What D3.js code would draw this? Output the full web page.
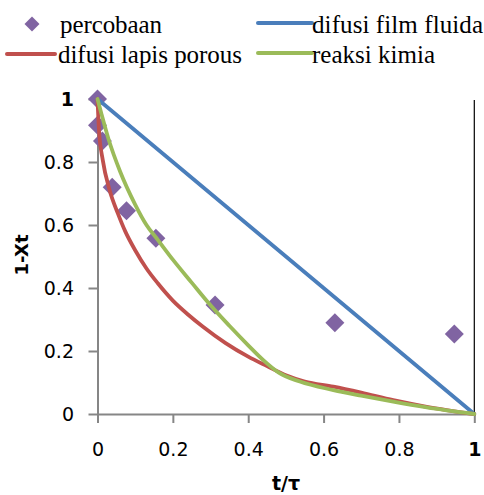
<!DOCTYPE html>
<html>
<head>
<meta charset="utf-8">
<script src="https://cdn.jsdelivr.net/npm/d3@7"></script>
<style>
  html, body { margin: 0; padding: 0; background: #fff; }
  svg { display: block; }
  .leg-text { font-family: "Liberation Serif", "DejaVu Serif", "Times New Roman", serif; font-size: 25px; }
</style>
</head>
<body>
<svg id="chart" width="484" height="495"></svg>
<script>
// ---- data ----
const xTicks = [0, 0.2, 0.4, 0.6, 0.8, 1];
const yTicks = [0, 0.2, 0.4, 0.6, 0.8, 1];
const xTickLabels = ["0", "0.2", "0.4", "0.6", "0.8", "1"];
const yTickLabels = ["0", "0.2", "0.4", "0.6", "0.8", "1"];

const seriesNames = ["percobaan", "difusi film fluida", "difusi lapis porous", "reaksi kimia"];
const seriesColors = ["#8064A2", "#4A7EBB", "#C0504D", "#9BBB59"];

// percobaan (experiment points)
const expT = [0, 0, 0.013, 0.039, 0.077, 0.155, 0.312, 0.63, 0.947];
const expY = [1, 0.917, 0.867, 0.72, 0.645, 0.558, 0.346, 0.29, 0.254];

// difusi film fluida
const filmT = [0, 0.2, 0.4, 0.6, 0.8, 1];
const filmY = [1, 0.80, 0.60, 0.40, 0.20, 0];

// difusi lapis porous
const porT = [0, 0.004, 0.014, 0.032, 0.054, 0.074, 0.10, 0.13, 0.16, 0.20, 0.24, 0.28, 0.34, 0.40, 0.45, 0.50, 0.55, 0.626, 0.70, 0.785, 0.874, 1];
const porY = [1, 0.90, 0.806, 0.711, 0.637, 0.579, 0.52, 0.462, 0.415, 0.36, 0.316, 0.277, 0.225, 0.182, 0.152, 0.123, 0.103, 0.087, 0.068, 0.044, 0.023, 0];

// reaksi kimia
const kimT = [0, 0.01, 0.03, 0.06, 0.10, 0.13, 0.16, 0.20, 0.25, 0.30, 0.35, 0.40, 0.44, 0.48, 0.537, 0.626, 0.70, 0.785, 0.874, 1];
const kimY = [1, 0.955, 0.87, 0.77, 0.665, 0.60, 0.553, 0.49, 0.417, 0.345, 0.28, 0.218, 0.171, 0.132, 0.103, 0.076, 0.058, 0.039, 0.021, 0];

// ---- layout ----
const svg = d3.select("#chart");
const x = d3.scaleLinear().domain([0, 1]).range([97.5, 474.3]);
const y = d3.scaleLinear().domain([0, 1]).range([414, 99]);
const axisColor = "#868686";

// right border line at x = 1
svg.append("line")
  .attr("x1", x(1)).attr("x2", x(1))
  .attr("y1", 100).attr("y2", y(0))
  .attr("stroke", "#000").attr("stroke-width", 1.2);

// axes
const gx = svg.append("g").attr("transform", `translate(0,${y(0)})`)
  .call(d3.axisBottom(x).tickValues(xTicks).tickSize(9).tickFormat((d, i) => xTickLabels[i]).tickSizeOuter(0));
const gy = svg.append("g").attr("transform", `translate(${x(0)},0)`)
  .call(d3.axisLeft(y).tickValues(yTicks).tickSize(9).tickFormat((d, i) => yTickLabels[i]).tickSizeOuter(0));

[gx, gy].forEach(g => {
  g.select(".domain").attr("stroke", axisColor).attr("stroke-width", 2);
  g.selectAll(".tick line").attr("stroke", axisColor).attr("stroke-width", 2);
  g.selectAll(".tick text")
    .attr("fill", "#000")
    .attr("font-family", "DejaVu Sans, Verdana, sans-serif")
    .attr("font-size", 19)
    .attr("font-weight", d => d === 1 ? "bold" : "normal");
});
gx.selectAll(".tick text").attr("dy", null).attr("y", 42);
gy.selectAll(".tick text").attr("dy", "0.36em").attr("x", -23.5);

// axis titles
svg.append("text")
  .attr("x", 286).attr("y", 490)
  .attr("text-anchor", "middle")
  .attr("font-family", "DejaVu Sans, Verdana, sans-serif")
  .attr("font-size", 19).attr("font-weight", "bold")
  .text("t/τ");
svg.append("text")
  .attr("transform", "translate(28,255) rotate(-90)")
  .attr("text-anchor", "middle")
  .attr("font-family", "DejaVu Sans, Verdana, sans-serif")
  .attr("font-size", 18).attr("font-weight", "bold")
  .text("1-Xt");

// experiment points (drawn first, under lines)
const diamond = d3.symbol().type(d3.symbolSquare).size(180);
svg.append("g").selectAll("path")
  .data(expT.map((t, i) => [t, expY[i]]))
  .join("path")
  .attr("d", diamond)
  .attr("transform", d => `translate(${x(d[0])},${y(d[1])}) rotate(45)`)
  .attr("fill", seriesColors[0]);

// lines
const lineData = [
  [filmT, filmY, seriesColors[1]],
  [porT, porY, seriesColors[2]],
  [kimT, kimY, seriesColors[3]]
];
const lineGen = d3.line().x(d => x(d[0])).y(d => y(d[1])).curve(d3.curveMonotoneX);
lineData.forEach(([ts, ys, c]) => {
  svg.append("path")
    .datum(ts.map((t, i) => [t, ys[i]]))
    .attr("d", lineGen)
    .attr("fill", "none")
    .attr("stroke", c)
    .attr("stroke-width", 3.8)
    .attr("stroke-linejoin", "round")
    .attr("stroke-linecap", "round");
});

// legend
const leg = svg.append("g");
leg.append("path")
  .attr("d", d3.symbol().type(d3.symbolSquare).size(112))
  .attr("transform", "translate(32,24) rotate(45)")
  .attr("fill", seriesColors[0]);
const legLines = [
  { x1: 258, x2: 312, y: 23, c: seriesColors[1] },
  { x1: 7, x2: 55, y: 54, c: seriesColors[2] },
  { x1: 258, x2: 312, y: 53, c: seriesColors[3] }
];
legLines.forEach(l => {
  leg.append("line").attr("x1", l.x1).attr("x2", l.x2).attr("y1", l.y).attr("y2", l.y)
    .attr("stroke", l.c).attr("stroke-width", 4).attr("stroke-linecap", "round");
});
const legText = [
  { x: 60, y: 33, t: seriesNames[0], w: 102 },
  { x: 312, y: 33, t: seriesNames[1], w: 171 },
  { x: 58, y: 63, t: seriesNames[2], w: 184 },
  { x: 312, y: 63, t: seriesNames[3], w: 123 }
];
legText.forEach(l => {
  leg.append("text").attr("class", "leg-text").attr("x", l.x).attr("y", l.y)
    .attr("fill", "#000")
    .attr("textLength", l.w)
    .attr("lengthAdjust", "spacing")
    .text(l.t);
});
</script>
</body>
</html>
